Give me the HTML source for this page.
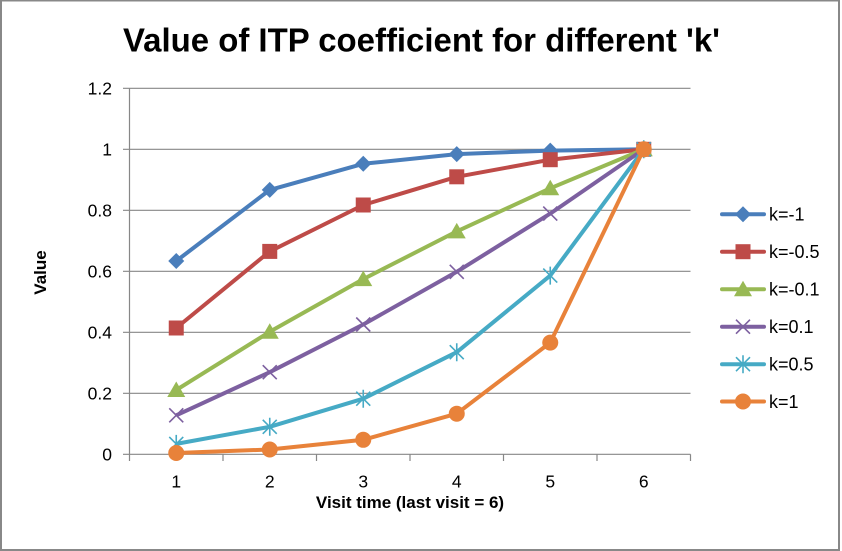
<!DOCTYPE html>
<html><head><meta charset="utf-8"><style>
html,body{margin:0;padding:0;background:#fff;}
svg{display:block;}
text{font-family:"Liberation Sans",sans-serif;fill:#000;}
</style></head><body>
<svg width="842" height="551" viewBox="0 0 842 551" xmlns="http://www.w3.org/2000/svg">
<defs>
<path id="dia" d="M0,-8 L8,0 L0,8 L-8,0 Z"/>
<rect id="sq" x="-7.5" y="-7.5" width="15" height="15"/>
<path id="tri" d="M0,-8.5 L9,7 L-9,7 Z"/>
<path id="xm" d="M-7,-7 L7,7 M-7,7 L7,-7" fill="none" stroke-width="1.6"/>
<path id="ast" d="M-7,-7 L7,7 M-7,7 L7,-7 M0,-9 L0,9" fill="none" stroke-width="1.6"/>
<circle id="cir" r="8"/>
</defs>
<rect x="0" y="0" width="842" height="551" fill="#fff"/>
<!-- border -->
<rect x="0" y="0" width="2" height="551" fill="#888"/>
<rect x="0" y="0" width="840" height="1.5" fill="#888"/>
<rect x="838" y="0" width="2" height="551" fill="#888"/>
<rect x="0" y="549" width="840" height="2" fill="#888"/>

<!-- title -->
<text x="123" y="51.5" font-size="33" font-weight="bold" textLength="597" lengthAdjust="spacingAndGlyphs">Value of ITP coefficient for different 'k'</text>

<!-- gridlines -->
<g stroke="#878787" stroke-width="1.2">
<line x1="123" y1="88.3" x2="690.5" y2="88.3"/>
<line x1="123" y1="149.3" x2="690.5" y2="149.3"/>
<line x1="123" y1="210.3" x2="690.5" y2="210.3"/>
<line x1="123" y1="271.3" x2="690.5" y2="271.3"/>
<line x1="123" y1="332.3" x2="690.5" y2="332.3"/>
<line x1="123" y1="393.3" x2="690.5" y2="393.3"/>
<line x1="123" y1="454.3" x2="690.5" y2="454.3"/>
<line x1="129.5" y1="88.3" x2="129.5" y2="461"/>
<line x1="223" y1="454.3" x2="223" y2="461"/>
<line x1="316.5" y1="454.3" x2="316.5" y2="461"/>
<line x1="410" y1="454.3" x2="410" y2="461"/>
<line x1="503.5" y1="454.3" x2="503.5" y2="461"/>
<line x1="597" y1="454.3" x2="597" y2="461"/>
<line x1="690.5" y1="454.3" x2="690.5" y2="461"/>
</g>

<!-- y tick labels -->
<g font-size="17.5" text-anchor="end">
<text x="112" y="94.6">1.2</text>
<text x="112" y="155.6">1</text>
<text x="112" y="216.6">0.8</text>
<text x="112" y="277.6">0.6</text>
<text x="112" y="338.6">0.4</text>
<text x="112" y="399.6">0.2</text>
<text x="112" y="460.6">0</text>
</g>
<!-- x tick labels -->
<g font-size="17.5" text-anchor="middle">
<text x="176.25" y="487.5">1</text>
<text x="269.75" y="487.5">2</text>
<text x="363.25" y="487.5">3</text>
<text x="456.75" y="487.5">4</text>
<text x="550.25" y="487.5">5</text>
<text x="643.75" y="487.5">6</text>
</g>

<!-- axis titles -->
<text x="410" y="508" font-size="17" font-weight="bold" text-anchor="middle">Visit time (last visit = 6)</text>
<text transform="translate(46,272.5) rotate(-90)" font-size="17" font-weight="bold" text-anchor="middle">Value</text>

<!-- series -->
<polyline fill="none" stroke-width="4" stroke-linejoin="round" stroke="#4A7EBB" points="176.25,261.0 269.75,189.9 363.25,163.8 456.75,154.1 550.25,150.6 643.75,149.3"/>
<g fill="#4A7EBB">
<use href="#dia" x="176.25" y="261.0"/><use href="#dia" x="269.75" y="189.9"/><use href="#dia" x="363.25" y="163.8"/><use href="#dia" x="456.75" y="154.1"/><use href="#dia" x="550.25" y="150.6"/><use href="#dia" x="643.75" y="149.3"/>
</g>
<polyline fill="none" stroke-width="4" stroke-linejoin="round" stroke="#BE4B48" points="176.25,328.0 269.75,251.4 363.25,205.0 456.75,176.8 550.25,159.7 643.75,149.3"/>
<g fill="#BE4B48">
<use href="#sq" x="176.25" y="328.0"/><use href="#sq" x="269.75" y="251.4"/><use href="#sq" x="363.25" y="205.0"/><use href="#sq" x="456.75" y="176.8"/><use href="#sq" x="550.25" y="159.7"/><use href="#sq" x="643.75" y="149.3"/>
</g>
<polyline fill="none" stroke-width="4" stroke-linejoin="round" stroke="#98B954" points="176.25,390.0 269.75,331.8 363.25,279.1 456.75,231.4 550.25,188.3 643.75,149.3"/>
<g fill="#98B954">
<use href="#tri" x="176.25" y="390.0"/><use href="#tri" x="269.75" y="331.8"/><use href="#tri" x="363.25" y="279.1"/><use href="#tri" x="456.75" y="231.4"/><use href="#tri" x="550.25" y="188.3"/><use href="#tri" x="643.75" y="149.3"/>
</g>
<polyline fill="none" stroke-width="4" stroke-linejoin="round" stroke="#7D60A0" points="176.25,415.3 269.75,372.2 363.25,324.5 456.75,271.8 550.25,213.6 643.75,149.3"/>
<g stroke="#7D60A0">
<use href="#xm" x="176.25" y="415.3"/><use href="#xm" x="269.75" y="372.2"/><use href="#xm" x="363.25" y="324.5"/><use href="#xm" x="456.75" y="271.8"/><use href="#xm" x="550.25" y="213.6"/><use href="#xm" x="643.75" y="149.3"/>
</g>
<polyline fill="none" stroke-width="4" stroke-linejoin="round" stroke="#46AAC5" points="176.25,443.9 269.75,426.8 363.25,398.7 456.75,352.2 550.25,275.6 643.75,149.3"/>
<g stroke="#46AAC5">
<use href="#ast" x="176.25" y="443.9"/><use href="#ast" x="269.75" y="426.8"/><use href="#ast" x="363.25" y="398.7"/><use href="#ast" x="456.75" y="352.2"/><use href="#ast" x="550.25" y="275.6"/><use href="#ast" x="643.75" y="149.3"/>
</g>
<polyline fill="none" stroke-width="4" stroke-linejoin="round" stroke="#E8823A" points="176.25,453.0 269.75,449.5 363.25,439.8 456.75,413.7 550.25,342.6 643.75,149.3"/>
<g fill="#E8823A">
<use href="#cir" x="176.25" y="453.0"/><use href="#cir" x="269.75" y="449.5"/><use href="#cir" x="363.25" y="439.8"/><use href="#cir" x="456.75" y="413.7"/><use href="#cir" x="550.25" y="342.6"/><use href="#cir" x="643.75" y="149.3"/>
</g>

<!-- legend -->
<g stroke-width="4" stroke-linecap="round">
<line x1="722" y1="214.3" x2="764" y2="214.3" stroke="#4A7EBB"/>
<line x1="722" y1="251.7" x2="764" y2="251.7" stroke="#BE4B48"/>
<line x1="722" y1="289.2" x2="764" y2="289.2" stroke="#98B954"/>
<line x1="722" y1="326.7" x2="764" y2="326.7" stroke="#7D60A0"/>
<line x1="722" y1="364.2" x2="764" y2="364.2" stroke="#46AAC5"/>
<line x1="722" y1="401.5" x2="764" y2="401.5" stroke="#E8823A"/>
</g>
<use href="#dia" x="743" y="214.3" fill="#4A7EBB"/>
<use href="#sq" x="743" y="251.7" fill="#BE4B48"/>
<use href="#tri" x="743" y="289.2" fill="#98B954"/>
<use href="#xm" x="743" y="326.7" stroke="#7D60A0"/>
<use href="#ast" x="743" y="364.2" stroke="#46AAC5"/>
<use href="#cir" x="743" y="401.5" fill="#E8823A"/>
<g font-size="18">
<text x="769" y="220.5">k=-1</text>
<text x="769" y="258">k=-0.5</text>
<text x="769" y="295.5">k=-0.1</text>
<text x="769" y="333">k=0.1</text>
<text x="769" y="370.5">k=0.5</text>
<text x="769" y="408">k=1</text>
</g>
</svg>
</body></html>
